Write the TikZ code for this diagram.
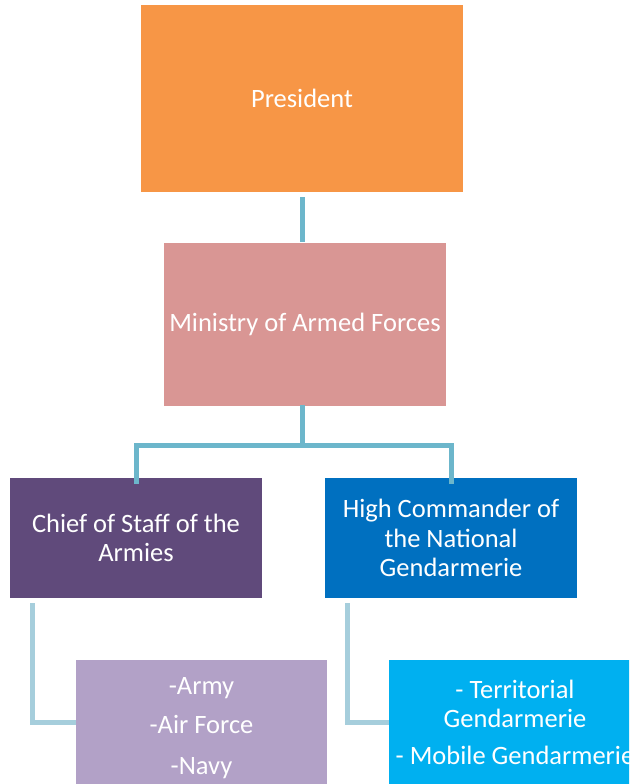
\documentclass[tikz,border=0pt]{standalone}
\usepackage{fontspec}
\setmainfont{Carlito}
\definecolor{presc}{HTML}{F79646}
\definecolor{minc}{HTML}{D99694}
\definecolor{chiefc}{HTML}{604A7B}
\definecolor{highc}{HTML}{0070C0}
\definecolor{armyc}{HTML}{B2A1C7}
\definecolor{terrc}{HTML}{00B0F0}
\definecolor{lineA}{HTML}{6CB6CB}
\definecolor{lineB}{HTML}{A6CEDC}
\begin{document}
\begin{tikzpicture}[x=1pt,y=-1pt,
  box/.style={draw=none, inner sep=0pt, align=center, text=white,
    font=\fontsize{26.5}{29.5}\selectfont},
  conn/.style={draw=lineA, line width=5pt},
  conn2/.style={draw=lineB, line width=5pt}]
\useasboundingbox (0,0) rectangle (629,784);
\clip (0,0) rectangle (629,784);
\node[box, fill=presc, minimum width=322pt, minimum height=187pt] (pres) at (302,98.5) {President};
\node[box, fill=minc, minimum width=282pt, minimum height=163pt] (min) at (305,324.5) {Ministry of Armed Forces};
\node[box, fill=chiefc, minimum width=252pt, minimum height=120pt] (chief) at (136,538) {Chief of Staff of the\\Armies};
\node[box, fill=highc, minimum width=252pt, minimum height=120pt] (high) at (451,538) {High Commander of\\the National\\Gendarmerie};
\node[box, fill=armyc, minimum width=251pt, minimum height=124pt] (army) at (201.5,722) {\rule{0pt}{30pt}-Army\\[9pt]-Air Force\\[12pt]-Navy};
\node[box, fill=terrc, minimum width=252pt, minimum height=124pt] (terr) at (515,722) {- Territorial\\Gendarmerie\\[7pt]- Mobile Gendarmerie};
\draw[conn, shorten <=5pt] (pres.south -| 302,0) -- (302,242);
\draw[conn] (302,405) -- (302,445) -| ([yshift=-6pt]chief.north);
\draw[conn] (302,445) -| ([yshift=-6pt]high.north);
\draw[conn2] ([xshift=-104pt,yshift=-5pt]chief.south) |- (army.west);
\draw[conn2] ([xshift=-104pt,yshift=-5pt]high.south) |- (terr.west);
\end{tikzpicture}
\end{document}
